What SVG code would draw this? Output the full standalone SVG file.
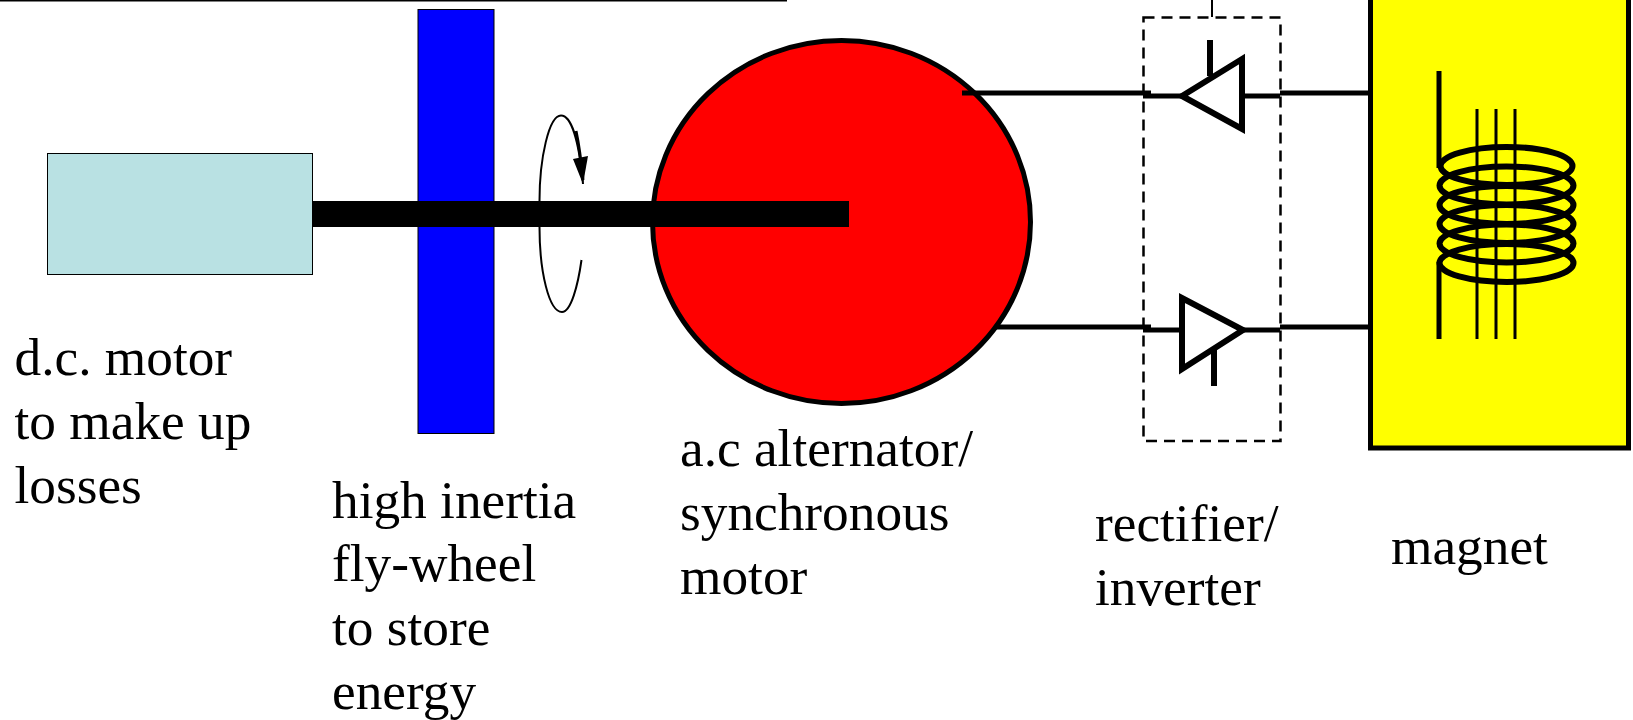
<svg xmlns="http://www.w3.org/2000/svg" width="1633" height="720" viewBox="0 0 1633 720">
<style>
.l{font-family:"Liberation Serif","Times New Roman",serif;font-size:53.3px;fill:#000}
.w{fill:none;stroke:#000;stroke-width:5}
.d{fill:none;stroke:#000;stroke-width:6}
.c{fill:none;stroke:#000;stroke-width:6}
.t{fill:none;stroke:#000;stroke-width:3}
</style>
<rect width="1633" height="720" fill="#fff"/>
<g id="flywheel"><rect x="418" y="9.500" width="76" height="424" fill="#0000ff" stroke="#000" stroke-width="1"/></g>
<g id="motor"><rect x="47.500" y="153.500" width="265" height="121" fill="#b9e1e3" stroke="#000" stroke-width="1"/></g>
<g id="rotation">
<path d="M583 184C579 140 571 115.500 561 115.500C549 115.500 539.500 158 539.500 201M539.500 227C539.500 272 549 312 562 312C571 312 578 285 581.500 260" fill="none" stroke="#000" stroke-width="2"/>
<path d="M576 131C579 145 581 160 583 180" fill="none" stroke="#000" stroke-width="3"/>
<path d="M573 159L588 156L583 184Z" fill="#000"/>
</g>
<g id="alternator"><ellipse cx="841.500" cy="222" rx="189" ry="181.500" fill="#ff0000" stroke="#000" stroke-width="5"/></g>
<g id="shaft"><rect x="313" y="201" width="536" height="26" fill="#000"/></g>
<g id="magnet">
<rect x="1370.500" y="-5" width="258" height="453" fill="#ffff00" stroke="#000" stroke-width="5"/>
<path d="M1439 71V168M1439 262V339" fill="none" stroke="#000" stroke-width="5"/>
<path class="t" d="M1477 109V339M1496 109V339M1515 109V339"/>
<ellipse class="c" cx="1506.500" cy="166" rx="66" ry="19"/>
<ellipse class="c" cx="1506.500" cy="185.500" rx="67" ry="19"/>
<ellipse class="c" cx="1506.500" cy="205" rx="67" ry="19"/>
<ellipse class="c" cx="1506.500" cy="224" rx="67" ry="19"/>
<ellipse class="c" cx="1506.500" cy="243.500" rx="67" ry="19"/>
<ellipse class="c" cx="1506.500" cy="263" rx="67" ry="19"/>
</g>
<g id="rectifier">
<rect x="1143.500" y="17.500" width="137" height="423.500" fill="none" stroke="#000" stroke-width="2.500" stroke-dasharray="11 7"/>
<path class="d" d="M1182 96L1242 59V129ZM1210 40V76"/>
<path class="d" d="M1182 298V369L1243 330ZM1214 350V386"/>
</g>
<g id="connectors">
<path d="M0 0.500H787" fill="none" stroke="#000" stroke-width="2"/>
<path d="M1212 0V17" fill="none" stroke="#000" stroke-width="2"/>
<path class="w" d="M962 93H1151M1143 96H1182M1244 96H1280M1280 93H1368"/>
<path class="w" d="M995 327H1151M1143 330H1182M1243 330H1280M1280 327H1368"/>
</g>
<g id="labels">
<text class="l" x="14.500" y="375">d.c. motor</text>
<text class="l" x="14.500" y="439">to make up</text>
<text class="l" x="14.500" y="503">losses</text>
<text class="l" x="332" y="518">high inertia</text>
<text class="l" x="332" y="581">fly-wheel</text>
<text class="l" x="332" y="645">to store</text>
<text class="l" x="332" y="709">energy</text>
<text class="l" x="680" y="466">a.c alternator/</text>
<text class="l" x="680" y="530">synchronous</text>
<text class="l" x="680" y="594">motor</text>
<text class="l" x="1095" y="541">rectifier/</text>
<text class="l" x="1095" y="605">inverter</text>
<text class="l" x="1391" y="564">magnet</text>
</g>
</svg>
